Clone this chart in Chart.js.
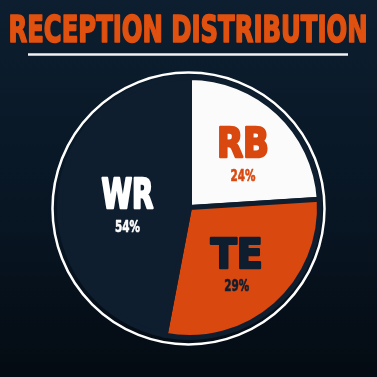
<!DOCTYPE html>
<html>
<head>
<meta charset="utf-8">
<script src="https://cdn.jsdelivr.net/npm/chart.js@4.4.1/dist/chart.umd.min.js"></script>
<style>
  html, body { margin: 0; padding: 0; }
  body { width: 377px; height: 377px; background: linear-gradient(#0c1e2f, #081624 55%, #040b12); }
  #wrap { position: relative; width: 377px; height: 377px; }
</style>
</head>
<body>
<div id="wrap"><canvas id="chart" width="377" height="377"></canvas></div>
<script>
const positions = ['RB', 'TE', 'WR'];
// slice sizes as drawn in the picture (the printed labels do not add up to 100)
const shares = [24, 29, 47];
const pctLabels = ['24%', '29%', '54%'];
const sliceColors = ['#fbfbfb', '#d9480f', '#0e1e2f'];
const textColors = ['#d9480f', '#0e1e2f', '#ffffff'];
const labelRadius = [0.6, 0.55, 0.48];
const titleText = 'RECEPTION DISTRIBUTION';

const navy = '#0e1e2f';

const decorPlugin = {
  id: 'decor',
  beforeDatasetsDraw(chart) {
    const { ctx } = chart;
    const arc = chart.getDatasetMeta(0).data[0];
    ctx.save();
    // outer white ring
    ctx.beginPath();
    ctx.arc(arc.x - 1, arc.y + 1, arc.outerRadius + 6, 0, Math.PI * 2);
    ctx.strokeStyle = '#ffffff';
    ctx.lineWidth = 2.5;
    ctx.stroke();
    ctx.restore();
  },
  afterDatasetsDraw(chart) {
    const { ctx } = chart;
    const meta = chart.getDatasetMeta(0);
    ctx.save();
    ctx.textAlign = 'center';
    ctx.textBaseline = 'middle';
    ctx.lineJoin = 'round';
    meta.data.forEach((a, i) => {
      const mid = (a.startAngle + a.endAngle) / 2;
      const r = a.outerRadius * labelRadius[i];
      const x = a.x + Math.cos(mid) * r;
      const y = a.y + Math.sin(mid) * r;
      ctx.fillStyle = textColors[i];
      ctx.strokeStyle = textColors[i];
      ctx.font = 'bold 40px "DejaVu Sans"';
      ctx.lineWidth = 2.5;
      ctx.strokeText(positions[i], x, y - 4, 52);
      ctx.fillText(positions[i], x, y - 4, 52);
      ctx.font = 'bold 15px "DejaVu Sans"';
      ctx.lineWidth = 0.6;
      ctx.strokeText(pctLabels[i], x, y + 26, 25);
      ctx.fillText(pctLabels[i], x, y + 26, 25);
    });

    // title and underline
    ctx.fillStyle = '#e0510f';
    ctx.strokeStyle = '#e0510f';
    ctx.lineWidth = 1.6;
    ctx.font = 'bold 37px "Liberation Sans Narrow", "DejaVu Sans Condensed", sans-serif';
    ctx.textBaseline = 'alphabetic';
    ctx.strokeText(titleText, 188, 42, 359);
    ctx.fillText(titleText, 188, 42, 359);
    ctx.beginPath();
    ctx.moveTo(28, 54.5);
    ctx.lineTo(348, 54.5);
    ctx.strokeStyle = '#f2f2f2';
    ctx.lineWidth = 2.5;
    ctx.stroke();
    ctx.restore();
  }
};

new Chart(document.getElementById('chart'), {
  type: 'pie',
  data: {
    labels: positions,
    datasets: [{
      data: shares,
      backgroundColor: sliceColors,
      borderColor: navy,
      borderWidth: 5,
      borderJoinStyle: 'miter'
    }]
  },
  options: {
    responsive: false,
    animation: false,
    layout: { padding: { top: 75, bottom: 37, left: 57, right: 55 } },
    plugins: {
      legend: { display: false },
      tooltip: { enabled: false },
      title: { display: false }
    }
  },
  plugins: [decorPlugin]
});
</script>
</body>
</html>
